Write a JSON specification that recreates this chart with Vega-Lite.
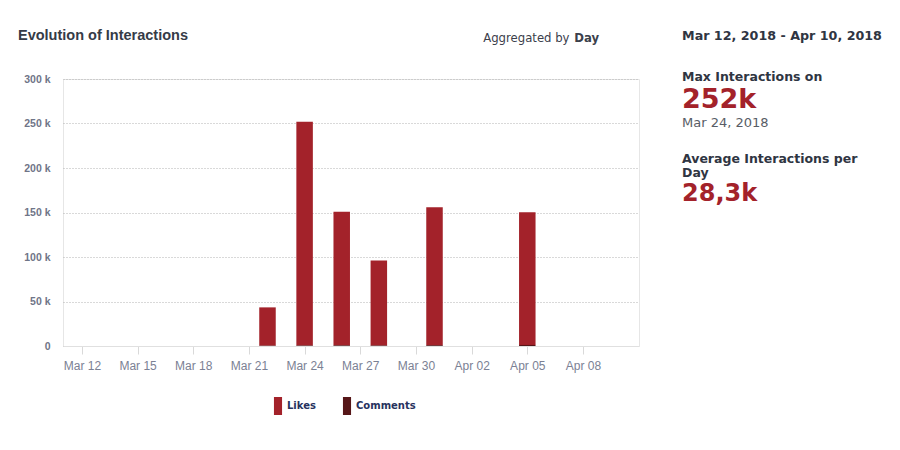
{
  "$schema": "https://vega.github.io/schema/vega-lite/v6.json",
  "background": "white",
  "padding": {"left": 17, "top": 27, "right": 5, "bottom": 5},
  "datasets": {
    "daily": [
      {"date": "2018-03-22", "type": "Likes", "interactions": 43000},
      {"date": "2018-03-22", "type": "Comments", "interactions": 400},
      {"date": "2018-03-24", "type": "Likes", "interactions": 251400},
      {"date": "2018-03-24", "type": "Comments", "interactions": 600},
      {"date": "2018-03-26", "type": "Likes", "interactions": 150000},
      {"date": "2018-03-26", "type": "Comments", "interactions": 800},
      {"date": "2018-03-28", "type": "Likes", "interactions": 95500},
      {"date": "2018-03-28", "type": "Comments", "interactions": 600},
      {"date": "2018-03-31", "type": "Likes", "interactions": 155000},
      {"date": "2018-03-31", "type": "Comments", "interactions": 900},
      {"date": "2018-04-05", "type": "Likes", "interactions": 149000},
      {"date": "2018-04-05", "type": "Comments", "interactions": 1200}
    ]
  },
  "config": {"view": {"stroke": null}, "font": "Liberation Sans"},
  "spacing": 42,
  "hconcat": [
    {
      "width": 576,
      "height": 267,
      "view": {"stroke": "#e6e6e6"},
      "title": {
        "text": "Evolution of Interactions",
        "anchor": "start",
        "frame": "group",
        "dx": -45,
        "dy": 15,
        "font": "Liberation Sans",
        "fontSize": 14.5,
        "fontWeight": "bold",
        "color": "#353b47"
      },
      "data": {"name": "daily"},
      "layer": [
        {
          "mark": {"type": "bar", "width": 16.5},
          "encoding": {
            "x": {
              "field": "date",
              "type": "temporal",
              "scale": {
                "type": "utc",
                "domain": [
                  {"year": 2018, "month": 3, "date": 11, "hours": 6, "utc": true},
                  {"year": 2018, "month": 4, "date": 10, "hours": 18, "utc": true}
                ]
              },
              "axis": {
                "orient": "bottom",
                "title": null,
                "grid": false,
                "values": [
                  {"year": 2018, "month": 3, "date": 12, "utc": true},
                  {"year": 2018, "month": 3, "date": 15, "utc": true},
                  {"year": 2018, "month": 3, "date": 18, "utc": true},
                  {"year": 2018, "month": 3, "date": 21, "utc": true},
                  {"year": 2018, "month": 3, "date": 24, "utc": true},
                  {"year": 2018, "month": 3, "date": 27, "utc": true},
                  {"year": 2018, "month": 3, "date": 30, "utc": true},
                  {"year": 2018, "month": 4, "date": 2, "utc": true},
                  {"year": 2018, "month": 4, "date": 5, "utc": true},
                  {"year": 2018, "month": 4, "date": 8, "utc": true}
                ],
                "labelExpr": "utcFormat(datum.value, '%b %d')",
                "domainColor": "#e0e0e0",
                "tickColor": "#d9d9d9",
                "tickSize": 8,
                "labelColor": "#7b8194",
                "labelFontSize": 12,
                "labelPadding": 6,
                "labelFlush": false,
                "labelOverlap": false
              }
            },
            "y": {
              "field": "interactions",
              "type": "quantitative",
              "stack": "zero",
              "scale": {"domain": [0, 300000], "nice": false},
              "axis": {
                "title": null,
                "values": [0, 50000, 100000, 150000, 200000, 250000, 300000],
                "labelExpr": "datum.value == 0 ? '0' : datum.value / 1000 + ' k'",
                "labelFontWeight": "bold",
                "labelFontSize": 10.5,
                "labelColor": "#6f7587",
                "labelPadding": 13,
                "ticks": false,
                "domain": false,
                "grid": true,
                "gridDash": [1, 2],
                "gridColor": "#b3b3b3",
                "minExtent": 40,
                "maxExtent": 40
              }
            },
            "color": {
              "field": "type",
              "type": "nominal",
              "scale": {"domain": ["Likes", "Comments"], "range": ["#a3222a", "#561618"]},
              "legend": {
                "orient": "none",
                "legendX": 206,
                "legendY": 318,
                "direction": "horizontal",
                "title": null,
                "symbolType": "M-0.45,-1h0.9v2h-0.9z",
                "symbolSize": 324,
                "symbolStrokeWidth": 0,
                "labelFont": "DejaVu Sans",
                "labelFontSize": 10,
                "labelFontWeight": "bold",
                "labelColor": "#27325e",
                "labelOffset": 0,
                "columnPadding": 22
              }
            },
            "order": {"field": "type", "sort": "ascending"}
          }
        },
        {
          "mark": {"type": "point", "opacity": 0},
          "encoding": {
            "x": {
              "field": "date",
              "type": "temporal",
              "axis": {
                "orient": "top",
                "title": null,
                "grid": false,
                "ticks": false,
                "domain": false,
                "values": [
                  {"year": 2018, "month": 4, "date": 7, "hours": 6, "utc": true},
                  {"year": 2018, "month": 4, "date": 7, "hours": 12, "utc": true}
                ],
                "labelExpr": "datum.value < 1523090000000 ? 'Aggregated by' : 'Day'",
                "labelAlign": {"condition": {"test": "datum.value < 1523090000000", "value": "right"}, "value": "left"},
                "labelFontWeight": {"condition": {"test": "datum.value < 1523090000000", "value": "normal"}, "value": "bold"},
                "labelFont": "DejaVu Sans",
                "labelFontSize": 11.7,
                "labelColor": "#3b404b",
                "labelPadding": 36,
                "labelFlush": false,
                "labelOverlap": false,
                "labelBound": false
              }
            }
          }
        }
      ],
      "resolve": {"axis": {"x": "independent"}}
    },
    {
      "spacing": 0,
      "vconcat": [
        {
          "width": 210,
          "height": 7,
          "data": {"values": []},
          "mark": "point",
          "title": {
            "text": "Mar 12, 2018 - Apr 10, 2018",
            "subtitle": "Max Interactions on",
            "anchor": "start",
            "offset": -4,
            "font": "DejaVu Sans",
            "fontSize": 12.7,
            "fontWeight": "bold",
            "color": "#2f3542",
            "subtitleFont": "DejaVu Sans",
            "subtitleFontSize": 12.5,
            "subtitleFontWeight": "bold",
            "subtitleColor": "#2f3542",
            "subtitlePadding": 28
          }
        },
        {
          "width": 210,
          "height": 21,
          "data": {"values": []},
          "mark": "point",
          "title": {
            "text": "252k",
            "subtitle": "Mar 24, 2018",
            "anchor": "start",
            "offset": 0,
            "font": "DejaVu Sans",
            "fontSize": 27,
            "fontWeight": "bold",
            "color": "#a3222a",
            "subtitleFont": "DejaVu Sans",
            "subtitleFontSize": 13,
            "subtitleFontWeight": "normal",
            "subtitleColor": "#585d66",
            "subtitlePadding": 3
          }
        },
        {
          "width": 210,
          "height": 1,
          "data": {"values": []},
          "mark": "point",
          "title": {
            "text": ["Average Interactions per", "Day"],
            "lineHeight": 14,
            "subtitle": "28,3k",
            "anchor": "start",
            "offset": 0,
            "font": "DejaVu Sans",
            "fontSize": 12.5,
            "fontWeight": "bold",
            "color": "#2f3542",
            "subtitleFont": "DejaVu Sans",
            "subtitleFontSize": 24,
            "subtitleFontWeight": "bold",
            "subtitleColor": "#a3222a",
            "subtitlePadding": 3
          }
        }
      ]
    }
  ]
}
